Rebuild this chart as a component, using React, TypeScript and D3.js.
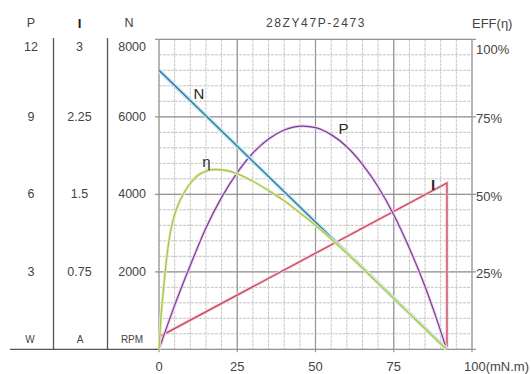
import React from "react";
import * as d3 from "d3";

const title = "28ZY47P-2473";
const xTicks = [0, 25, 50, 75, 100];
const pTicks = ["12", "9", "6", "3"];
const iTicks = ["3", "2.25", "1.5", "0.75"];
const nTicks = [8000, 6000, 4000, 2000];
const effTicks = ["100%", "75%", "50%", "25%"];

// N (rpm) vs torque
const nTorque = [0, 91.9];
const nSpeed = [7200, 0];
// I (A) vs torque, with vertical drop at stall
const iTorque = [0, 92, 92];
const iCurrent = [0.12, 1.61, 0];
// P (W) vs torque
const pTorque = [0, 5, 10, 15, 20, 25, 30, 35, 40, 46, 50, 55, 60, 65, 70, 75, 80, 85, 88, 91.9];
const pPower = [0, 1.7, 3.25, 4.7, 5.88, 6.84, 7.6, 8.14, 8.49, 8.64, 8.58, 8.31, 7.84, 7.16, 6.29, 5.21, 3.91, 2.43, 1.42, 0];
// Efficiency (%) vs torque
const eTorque = [0, 0.6, 1.4, 2.4, 3.5, 5, 6.7, 8.3, 10, 13, 18, 22, 25, 30, 35, 40, 45, 50, 55, 60, 65, 70, 75, 80, 85, 90, 91.9];
const eEff = [0, 10, 19, 29, 37, 43.5, 48, 51, 53.5, 56.5, 58, 57.6, 56.6, 54.2, 51.2, 47.9, 44, 40, 35.6, 31, 26.2, 21.3, 16.4, 11.5, 6.6, 1.8, 0];

const W = 531;
const H = 374;
const L = 159, R = 472, T = 39.3, B = 349.3;

export default function App() {
  const x = d3.scaleLinear().domain([0, 100]).range([L, R]);
  const yN = d3.scaleLinear().domain([0, 8000]).range([B, T]);
  const yI = d3.scaleLinear().domain([0, 3]).range([B, T]);
  const yP = d3.scaleLinear().domain([0, 12]).range([B, T]);
  const yE = d3.scaleLinear().domain([0, 100]).range([B, T]);

  const minorX = d3.range(0, 101, 5);
  const minorY = d3.range(0, 8001, 400);

  const lineLin = d3.line<[number, number]>().x((d) => d[0]).y((d) => d[1]);
  const lineSmooth = d3
    .line<[number, number]>()
    .x((d) => d[0])
    .y((d) => d[1])
    .curve(d3.curveMonotoneX);

  const nPath = lineLin(nTorque.map((t, i) => [x(t), yN(nSpeed[i])]))!;
  const iPath = lineLin(iTorque.map((t, i) => [x(t), yI(iCurrent[i])]))!;
  const pPath = lineSmooth(pTorque.map((t, i) => [x(t), yP(pPower[i])]))!;
  const ePath = lineSmooth(eTorque.map((t, i) => [x(t), yE(eEff[i])]))!;

  const font = "'Liberation Sans', Arial, sans-serif";
  const txt = "#444";

  return (
    <svg
      width={W}
      height={H}
      style={{ position: "absolute", left: 0, top: 0, background: "#fff" }}
      fontFamily={font}
    >
      <rect x={0} y={0} width={W} height={H} fill="#fff" />
      {/* minor grid */}
      {minorX.map((v) => (
        <line key={"mx" + v} x1={x(v)} x2={x(v)} y1={T} y2={B} stroke="#c4c4c4" strokeWidth={1} strokeDasharray="3,1" />
      ))}
      {minorY.map((v) => (
        <line key={"my" + v} x1={L} x2={R} y1={yN(v)} y2={yN(v)} stroke="#c4c4c4" strokeWidth={1} strokeDasharray="3,1" />
      ))}
      {/* major grid */}
      {xTicks.map((v) => (
        <line key={"Mx" + v} x1={x(v)} x2={x(v)} y1={T} y2={B + 3} stroke="#959595" strokeWidth={1.2} />
      ))}
      {[0, 2000, 4000, 6000, 8000].map((v) => (
        <line key={"My" + v} x1={L - 4} x2={R + 4} y1={yN(v)} y2={yN(v)} stroke="#959595" strokeWidth={1.2} />
      ))}

      {/* left panel */}
      <line x1={53.5} x2={53.5} y1={38} y2={B} stroke="#555" strokeWidth={1.3} />
      <line x1={107.5} x2={107.5} y1={38} y2={B} stroke="#555" strokeWidth={1.3} />
      <line x1={10} x2={L} y1={B} y2={B} stroke="#555" strokeWidth={1.3} />

      <text x={31} y={23} fontSize={12.5} fill={txt} textAnchor="middle" dominantBaseline="central">P</text>
      <text x={79.5} y={23} fontSize={13} fill="#222" fontWeight="bold" textAnchor="middle" dominantBaseline="central">I</text>
      <text x={129} y={23} fontSize={12.5} fill={txt} textAnchor="middle" dominantBaseline="central">N</text>

      {nTicks.map((v, i) => {
        const yy = v === 8000 ? 47 : yN(v);
        return (
          <g key={"lt" + v}>
            <text x={31} y={yy} fontSize={12.5} fill={txt} textAnchor="middle" dominantBaseline="central">{pTicks[i]}</text>
            <text x={79.5} y={yy} fontSize={12.5} fill={txt} textAnchor="middle" dominantBaseline="central">{iTicks[i]}</text>
            <text x={146} y={yy} fontSize={12.5} fill={txt} textAnchor="end" dominantBaseline="central">{v}</text>
          </g>
        );
      })}
      <text x={30} y={339} fontSize={10} fill={txt} textAnchor="middle" dominantBaseline="central">W</text>
      <text x={80} y={339} fontSize={10} fill={txt} textAnchor="middle" dominantBaseline="central">A</text>
      <text x={132} y={339} fontSize={10} fill={txt} textAnchor="middle" dominantBaseline="central">RPM</text>

      {/* right axis */}
      {effTicks.map((s, i) => {
        const v = 100 - i * 25;
        const yy = v === 100 ? 49 : yE(v) + 2;
        return (
          <text key={"rt" + s} x={476} y={yy} fontSize={13} fill={txt} dominantBaseline="central">{s}</text>
        );
      })}
      <text x={472} y={23} fontSize={13} fill={txt} dominantBaseline="central">EFF(η)</text>
      <text x={316} y={23} fontSize={12} fill={txt} textAnchor="middle" letterSpacing={1.6} dominantBaseline="central">{title}</text>

      {/* x labels */}
      {xTicks.map((v) => (
        <text key={"xt" + v} x={v === 100 ? 464 : x(v)} y={366} fontSize={13} fill={txt} textAnchor={v === 100 ? "start" : "middle"} dominantBaseline="central">
          {v === 100 ? "100(mN.m)" : v}
        </text>
      ))}

      {/* curves */}
      <path d={iPath} fill="none" stroke="#f3c9d2" strokeWidth={3} />
      <path d={iPath} fill="none" stroke="#c8405a" strokeWidth={1.2} />
      <path d={pPath} fill="none" stroke="#ead0f0" strokeWidth={3} />
      <path d={pPath} fill="none" stroke="#7b3b97" strokeWidth={1.2} />
      <path d={nPath} fill="none" stroke="#bfe6f3" strokeWidth={4} />
      <path d={nPath} fill="none" stroke="#2f7199" strokeWidth={1.3} />
      <path d={ePath} fill="none" stroke="#e6f0c0" strokeWidth={3} />
      <path d={ePath} fill="none" stroke="#a8c450" strokeWidth={1.3} />

      {/* curve labels */}
      <text x={199} y={93} fontSize={15} fill="#2a2a2a" textAnchor="middle" dominantBaseline="central">N</text>
      <text x={206.5} y={161} fontSize={15} fill="#2a2a2a" textAnchor="middle" dominantBaseline="central">η</text>
      <text x={343.5} y={128} fontSize={15} fill="#2a2a2a" textAnchor="middle" dominantBaseline="central">P</text>
      <text x={433} y={184} fontSize={15} fill="#2a2a2a" fontWeight="bold" textAnchor="middle" dominantBaseline="central">I</text>
    </svg>
  );
}
